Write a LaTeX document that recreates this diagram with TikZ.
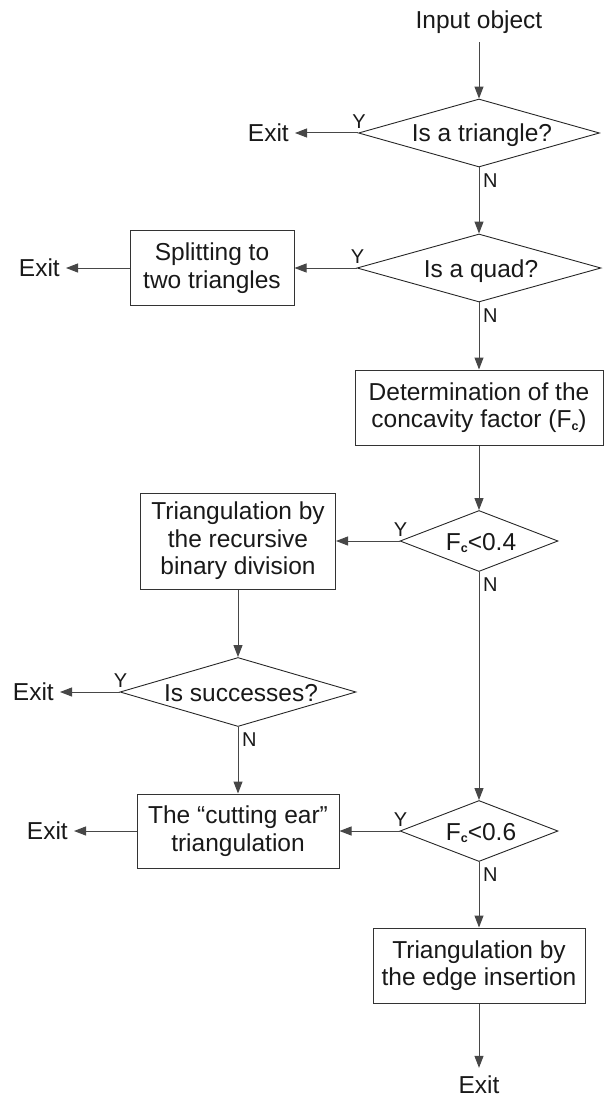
\documentclass[tikz,border=0pt]{standalone}
\usepackage{fontspec}
\setmainfont{Liberation Sans}
\usetikzlibrary{shapes.geometric,arrows.meta}
\newcommand{\Fsub}{F\raisebox{-2.5pt}{\fontsize{12.5pt}{12.5pt}\selectfont\bfseries c}}
\begin{document}
\begin{tikzpicture}[x=1pt,y=-1pt,
 lin/.style={draw=black!72, line width=1pt},
 arr/.style={lin, -{Triangle[length=12pt,width=9pt]}},
 box/.style={draw=black!80, line width=1pt, inner sep=0pt, align=center, font=\fontsize{24.5pt}{27.5pt}\selectfont, text=black!90},
 dia/.style={diamond, draw=black!85, line width=0.9pt, inner sep=0pt},
 dtext/.style={font=\fontsize{24.5pt}{27.5pt}\selectfont, text=black!90, inner sep=0pt, anchor=base},
 lbl/.style={font=\fontsize{20pt}{20pt}\selectfont, text=black!90, inner sep=0pt},
 ylbl/.style={lbl, anchor=south, xshift=1pt, yshift=4pt},
 nlbl/.style={lbl, anchor=north west, xshift=4pt, yshift=-6pt},
 exitn/.style={font=\fontsize{24.5pt}{27.5pt}\selectfont, text=black!90, inner xsep=6pt, inner ysep=0pt, anchor=east},
]
\useasboundingbox (0,0) rectangle (607,1097);

% input
\node[font=\fontsize{24.5pt}{27.5pt}\selectfont, text=black!90, inner xsep=0pt, inner ysep=8.5pt] (in) at (479,22) {Input object};

% diamond 1
\node[dia, minimum width=241pt, minimum height=68pt] (d1) at (479,133) {};
\node[dtext, xshift=3pt, yshift=-9pt] (d1t) at (d1.center) {Is a triangle?};
\node[exitn] (e1) at (295,133) {Exit};
\node[ylbl] (d1y) at (d1.west) {Y};
\node[nlbl] (d1n) at (d1.south) {N};

% diamond 2
\node[dia, minimum width=244pt, minimum height=68pt] (d2) at (479,268) {};
\node[dtext, xshift=2pt, yshift=-9pt] (d2t) at (d2.center) {Is a quad?};
\node[box, minimum width=164pt, minimum height=75pt] (s2) at (212,268) {Splitting to\\two triangles};
\node[exitn] (e2) at (66,268) {Exit};
\node[ylbl] (d2y) at (d2.west) {Y};
\node[nlbl] (d2n) at (d2.south) {N};

% determination
\node[box, minimum width=248pt, minimum height=75pt] (det) at (479,407.5) {Determination of the\\concavity factor (\Fsub)};

% diamond 3
\node[dia, minimum width=158pt, minimum height=61pt] (d3) at (479,541) {};
\node[dtext, xshift=2pt, yshift=-9pt] (d3t) at (d3.center) {\Fsub<0.4};
\node[ylbl] (d3y) at (d3.west) {Y};
\node[nlbl] (d3n) at (d3.south) {N};
\node[box, minimum width=195pt, minimum height=96pt] (rec) at (238,541) {Triangulation by\\the recursive\\binary division};

% diamond 4
\node[dia, minimum width=236pt, minimum height=69pt] (d4) at (238,692) {};
\node[dtext, xshift=3pt, yshift=-9pt] (d4t) at (d4.center) {Is successes?};
\node[exitn] (e3) at (60,692) {Exit};
\node[ylbl] (d4y) at (d4.west) {Y};
\node[nlbl] (d4n) at (d4.south) {N};

% cutting ear
\node[box, minimum width=202pt, minimum height=74pt] (cut) at (238,831) {The “cutting ear”\\triangulation};
\node[exitn] (e4) at (74,831) {Exit};

% diamond 5
\node[dia, minimum width=158pt, minimum height=61pt] (d5) at (479,831) {};
\node[dtext, xshift=2pt, yshift=-9pt] (d5t) at (d5.center) {\Fsub<0.6};
\node[ylbl] (d5y) at (d5.west) {Y};
\node[nlbl] (d5n) at (d5.south) {N};

% edge insertion
\node[box, minimum width=212pt, minimum height=75pt] (edge) at (479,965.5) {Triangulation by\\the edge insertion};
\node[font=\fontsize{24.5pt}{27.5pt}\selectfont, text=black!90, inner xsep=0pt, inner ysep=8pt] (ex5) at (479,1085) {Exit};

% connectors
\draw[arr] (in.south) -- (d1.north);
\draw[arr] (d1.west) -- (e1.east);
\draw[arr] (d1.south) -- (d2.north);
\draw[arr] (d2.west) -- (s2.east);
\draw[arr] (s2.west) -- (e2.east);
\draw[arr] (d2.south) -- (det.north);
\draw[arr] (det.south) -- (d3.north);
\draw[arr] (d3.west) -- (rec.east);
\draw[arr] (rec.south) -- (d4.north);
\draw[arr] (d4.west) -- (e3.east);
\draw[arr] (d4.south) -- (cut.north);
\draw[arr] (d3.south) -- (d5.north);
\draw[arr] (d5.west) -- (cut.east);
\draw[arr] (cut.west) -- (e4.east);
\draw[arr] (d5.south) -- (edge.north);
\draw[arr] (edge.south) -- (ex5.north);
\end{tikzpicture}
\end{document}
